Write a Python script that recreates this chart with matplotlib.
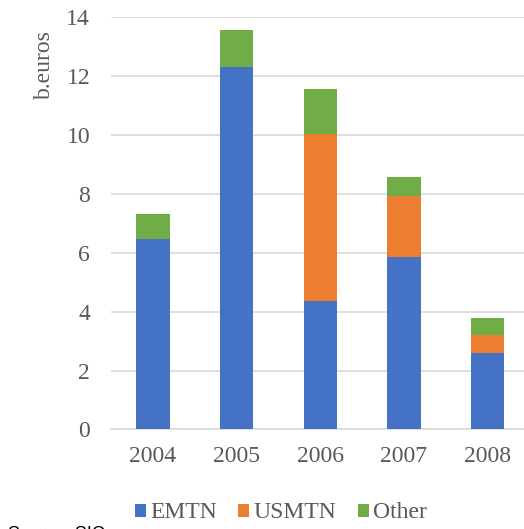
import numpy as np
import matplotlib.pyplot as plt

# data (billion euros)
years = ['2004', '2005', '2006', '2007', '2008']
emtn = [6.46, 12.3, 4.35, 5.86, 2.61]
usmtn = [0.0, 0.0, 5.69, 2.06, 0.60]
other = [0.87, 1.27, 1.51, 0.67, 0.58]

colors = ['#4472C4', '#ED7D31', '#70AD47']
grey = '#595959'

plt.rcParams['font.family'] = ['Liberation Serif', 'DejaVu Serif']

fig = plt.figure(figsize=(5.24, 5.29), dpi=100)
# axes runs slightly past the right edge, as in the cropped original
ax = fig.add_axes([0.2118, 0.1881, 0.7987, 0.7792])

x = np.arange(len(years))
w = 0.4
b1 = ax.bar(x, emtn, w, color=colors[0], label='EMTN', zorder=3)
b2 = ax.bar(x, usmtn, w, bottom=emtn, color=colors[1], label='USMTN', zorder=3)
base = np.array(emtn) + np.array(usmtn)
b3 = ax.bar(x, other, w, bottom=base, color=colors[2], label='Other', zorder=3)

ax.set_xlim(-0.5, 4.5)
ax.set_ylim(0, 14)
ax.set_yticks(range(0, 15, 2))
ax.set_xticks(x)
ax.set_xticklabels(years)
ax.tick_params(axis='both', length=0, labelsize=17, colors=grey)
ax.tick_params(axis='y', pad=15)
ax.tick_params(axis='x', pad=12)

ax.grid(axis='y', color='#d9d9d9', linewidth=1.2, zorder=0)
for s in ['top', 'right', 'left']:
    ax.spines[s].set_visible(False)
ax.spines['bottom'].set_color('#d9d9d9')
ax.spines['bottom'].set_linewidth(1.2)

fig.text(44 / 524, 1 - 65 / 529, 'b.euros', rotation=90, ha='center', va='center',
         fontsize=17, color=grey)

fig.legend(handles=[b1, b2, b3], loc='center', bbox_to_anchor=(281 / 524, 1 - 513 / 529),
           ncol=3, frameon=False, fontsize=17, handlelength=0.46, handleheight=0.46,
           handletextpad=0.2, columnspacing=0.9, labelcolor=grey)

# source note, cut off by the bottom edge in the original
fig.text(8 / 524, 1 - 526 / 529, 'Source: SIC', ha='left', va='top', fontsize=13,
         family=['Liberation Sans', 'DejaVu Sans'], color='black')

fig.savefig('out.png', dpi=100)
